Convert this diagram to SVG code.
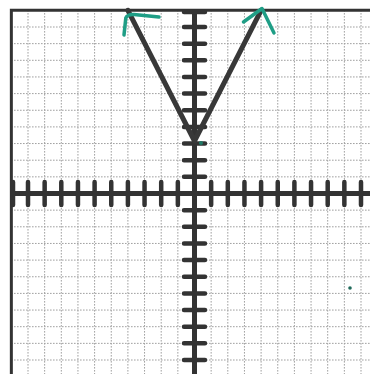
<svg xmlns="http://www.w3.org/2000/svg" width="370" height="374" viewBox="0 0 370 374">
<style>
.grid{stroke:#a0a0a0;stroke-width:1;stroke-dasharray:1.6 1.4;fill:none}
.border{stroke:#333;stroke-width:3;fill:none}
.axis{stroke:#333;stroke-width:5;fill:none}
.tick{stroke:#333;stroke-width:4.5;stroke-linecap:round;fill:none}
.graph{stroke:#383838;stroke-width:5;stroke-linecap:round;stroke-linejoin:round;fill:none}
.ink{stroke:#1f9e86;stroke-width:3.5;stroke-linecap:round;stroke-linejoin:round;fill:none}
</style>
<rect width="370" height="374" fill="#fff"/>
<g id="grid" class="grid">
<path d="M28,10V374M44.65,10V374M61.3,10V374M77.95,10V374M94.6,10V374M111.25,10V374M127.9,10V374M144.55,10V374M161.2,10V374M177.85,10V374M211.15,10V374M227.8,10V374M244.45,10V374M261.1,10V374M277.75,10V374M294.4,10V374M311.05,10V374M327.7,10V374M344.35,10V374M361,10V374"/>
<path d="M11,27H370M11,43.65H370M11,60.3H370M11,76.95H370M11,93.6H370M11,110.25H370M11,126.9H370M11,143.55H370M11,160.2H370M11,176.85H370M11,210.15H370M11,226.8H370M11,243.45H370M11,260.1H370M11,276.75H370M11,293.4H370M11,310.05H370M11,326.7H370M11,343.35H370M11,360H370"/>
</g>
<g id="border" class="border">
<path d="M11.35,374V10.35H370"/>
</g>
<g id="axes">
<path class="axis" d="M11.35,193.5H370M194.5,10.35V374"/>
<path class="tick" d="M13,182V205M28,182V205M44.65,182V205M61.3,182V205M77.95,182V205M94.6,182V205M111.25,182V205M127.9,182V205M144.55,182V205M161.2,182V205M177.85,182V205M211.15,182V205M227.8,182V205M244.45,182V205M261.1,182V205M277.75,182V205M294.4,182V205M311.05,182V205M327.7,182V205M344.35,182V205M361,182V205"/>
<path class="tick" d="M184,12H205M184,27H205M184,43.65H205M184,60.3H205M184,76.95H205M184,93.6H205M184,110.25H205M184,126.9H205M184,143.55H205M184,160.2H205M184,176.85H205M184,210.15H205M184,226.8H205M184,243.45H205M184,260.1H205M184,276.75H205M184,293.4H205M184,310.05H205M184,326.7H205M184,343.35H205M184,360H205"/>
</g>
<g id="graph">
<path class="graph" d="M127.9,10.35L194.5,141L261.1,10.35"/>
<path class="ink" d="M124,35L125.8,18Q127.5,14 134,14.5L159,17"/>
<path class="ink" d="M243.5,22L262,8.5L274,33"/>
<circle cx="201" cy="143" r="2" fill="#1f7a66"/>
<circle cx="350" cy="288" r="1.8" fill="#1f6a5a"/>
</g>
</svg>
